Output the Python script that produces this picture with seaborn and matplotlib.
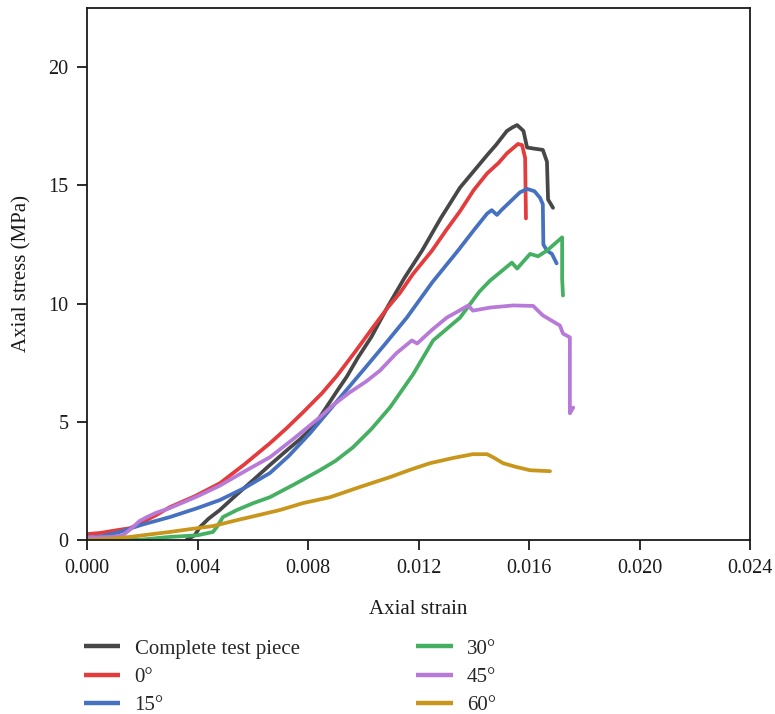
import numpy as np
import pandas as pd
import seaborn as sns
import matplotlib.pyplot as plt
from matplotlib.ticker import FormatStrFormatter

# Stress-strain curves for the complete specimen and the jointed specimens
labels = ["Complete test piece", "0°", "15°", "30°", "45°", "60°"]
colors = ["#474747", "#e43c3c", "#4670c0", "#45b061", "#b87ad8", "#c8961b"]

complete_strain = [0.0036, 0.0039, 0.00409, 0.0044, 0.00481, 0.0054, 0.00601, 0.0066,
                   0.00724, 0.0077, 0.0082, 0.0086, 0.00905, 0.0094, 0.0098, 0.0103,
                   0.0109, 0.0115, 0.01213, 0.0128, 0.0135, 0.0140, 0.0145, 0.0148,
                   0.0152, 0.0154, 0.01557, 0.0158, 0.01593, 0.0162, 0.0165, 0.01665,
                   0.01669, 0.01687]
complete_stress = [0.0, 0.2, 0.55, 0.9, 1.27, 1.9, 2.53, 3.15,
                   3.8, 4.25, 4.8, 5.5, 6.3, 6.9, 7.7, 8.6,
                   9.9, 11.1, 12.24, 13.6, 14.9, 15.6, 16.3, 16.7,
                   17.3, 17.45, 17.55, 17.3, 16.6, 16.55, 16.5, 16.0,
                   14.4, 14.05]

deg0_strain = [0.0, 0.0005, 0.001, 0.00156, 0.002, 0.0025, 0.003, 0.0039,
               0.00481, 0.0057, 0.00662, 0.0072, 0.00782, 0.0085, 0.00905, 0.0097,
               0.01035, 0.0109, 0.01133, 0.0118, 0.01249, 0.0130, 0.0135, 0.0140,
               0.01448, 0.0149, 0.0152, 0.0156, 0.01575, 0.01586, 0.01589]
deg0_stress = [0.25, 0.3, 0.4, 0.5, 0.75, 1.05, 1.39, 1.85,
               2.4, 3.2, 4.09, 4.7, 5.4, 6.2, 6.95, 7.95,
               8.99, 9.85, 10.45, 11.25, 12.24, 13.1, 13.9, 14.8,
               15.5, 15.95, 16.35, 16.75, 16.7, 16.16, 13.6]

deg15_strain = [0.0, 0.0005, 0.0012, 0.0016, 0.002, 0.003, 0.004, 0.00481,
                0.0057, 0.00662, 0.0073, 0.00807, 0.009, 0.00999, 0.0108, 0.01158,
                0.0125, 0.01343, 0.0140, 0.01448, 0.01465, 0.01484, 0.0150, 0.01567,
                0.01593, 0.0162, 0.0164, 0.0165, 0.01652, 0.01665, 0.01683, 0.0170]
deg15_stress = [0.1, 0.15, 0.34, 0.5, 0.65, 0.97, 1.35, 1.69,
                2.2, 2.83, 3.55, 4.51, 5.8, 7.17, 8.3, 9.41,
                10.9, 12.24, 13.1, 13.8, 13.95, 13.75, 13.95, 14.7,
                14.85, 14.75, 14.47, 14.2, 12.5, 12.24, 12.1, 11.7]

deg30_strain = [0.0, 0.001, 0.002, 0.003, 0.004, 0.00456, 0.0047, 0.00492,
                0.00543, 0.006, 0.00662, 0.0075, 0.00843, 0.009, 0.00963, 0.0103,
                0.01097, 0.0118, 0.01253, 0.0135, 0.0142, 0.01459, 0.01538, 0.01557,
                0.01604, 0.01633, 0.01665, 0.0172, 0.0172, 0.01723]
deg30_stress = [0.0, 0.0, 0.02, 0.13, 0.2, 0.34, 0.55, 0.97,
                1.27, 1.55, 1.81, 2.35, 2.95, 3.35, 3.92, 4.7,
                5.61, 7.0, 8.44, 9.4, 10.5, 10.97, 11.73, 11.48,
                12.1, 12.0, 12.24, 12.8, 11.05, 10.34]

deg45_strain = [0.0, 0.0009, 0.0013, 0.00167, 0.0019, 0.00217, 0.0025, 0.003,
                0.004, 0.00481, 0.0057, 0.00662, 0.0075, 0.00843, 0.0089, 0.00952,
                0.0101, 0.01061, 0.0112, 0.01176, 0.01195, 0.0125, 0.01303, 0.0134,
                0.0138, 0.01397, 0.01459, 0.01543, 0.01615, 0.0165, 0.01712, 0.01723,
                0.01748, 0.01748, 0.0176]
deg45_stress = [0.1, 0.13, 0.2, 0.55, 0.8, 0.97, 1.15, 1.35,
                1.85, 2.3, 2.9, 3.5, 4.3, 5.19, 5.7, 6.25,
                6.7, 7.17, 7.9, 8.44, 8.31, 8.9, 9.41, 9.65,
                9.92, 9.7, 9.83, 9.92, 9.9, 9.5, 9.07, 8.73,
                8.57, 5.36, 5.6]

deg60_strain = [0.0, 0.0008, 0.00156, 0.0023, 0.003, 0.0038, 0.00456, 0.00543,
                0.0062, 0.00699, 0.00782, 0.0088, 0.0099, 0.01097, 0.0117, 0.01242,
                0.0133, 0.01397, 0.01448, 0.0147, 0.01506, 0.0155, 0.01604, 0.01676]
deg60_stress = [0.0, 0.05, 0.13, 0.24, 0.34, 0.47, 0.59, 0.84,
                1.05, 1.27, 1.56, 1.81, 2.25, 2.66, 2.97, 3.25,
                3.48, 3.63, 3.63, 3.5, 3.25, 3.1, 2.95, 2.91]

series = [(complete_strain, complete_stress), (deg0_strain, deg0_stress),
          (deg15_strain, deg15_stress), (deg30_strain, deg30_stress),
          (deg45_strain, deg45_stress), (deg60_strain, deg60_stress)]

frames = []
for name, (xs, ys) in zip(labels, series):
    frames.append(pd.DataFrame({"strain": xs, "stress": ys, "specimen": name}))
df = pd.concat(frames, ignore_index=True)

sns.set_theme(style="ticks")
plt.rcParams["font.family"] = ["Liberation Serif", "DejaVu Serif"]
plt.rcParams["font.size"] = 14
plt.rcParams["lines.solid_joinstyle"] = "round"
plt.rcParams["lines.solid_capstyle"] = "round"

fig = plt.figure(figsize=(7.75, 7.14), dpi=100)
ax = fig.add_axes([87 / 775, 1 - 540 / 714, 663 / 775, 532 / 714])

sns.lineplot(data=df, x="strain", y="stress", hue="specimen", hue_order=labels,
             palette=colors, sort=False, estimator=None, units="specimen",
             linewidth=2.7, ax=ax, legend=True)

handles, names = ax.get_legend_handles_labels()
ax.get_legend().remove()
for h in handles:
    h.set_linewidth(3.2)
    h.set_solid_capstyle("butt")

ax.set_xlim(0, 0.024)
ax.set_ylim(0, 22.5)
ax.set_xticks(np.arange(0, 0.0241, 0.004))
ax.set_yticks([0, 5, 10, 15, 20])
ax.xaxis.set_major_formatter(FormatStrFormatter("%.3f"))
ax.tick_params(axis="both", direction="out", length=7, width=1.3, pad=6.5,
               labelsize=14.5, colors="#1a1a1a")
for side in ["left", "right", "top", "bottom"]:
    ax.spines[side].set_visible(True)
    ax.spines[side].set_linewidth(1.3)
    ax.spines[side].set_color("#1a1a1a")

ax.set_xlabel("Axial strain", fontsize=15, labelpad=16, color="#1a1a1a")
ax.set_ylabel("Axial stress (MPa)", fontsize=15, labelpad=12, color="#1a1a1a")

fig.legend(handles, names, loc="upper left", bbox_to_anchor=(84 / 775, 1 - 639 / 714),
           ncol=2, frameon=False, fontsize=15, borderpad=0, borderaxespad=0,
           handlelength=1.75, handletextpad=0.68, columnspacing=5.6, labelspacing=0.42)

fig.savefig("out.png", dpi=100)
